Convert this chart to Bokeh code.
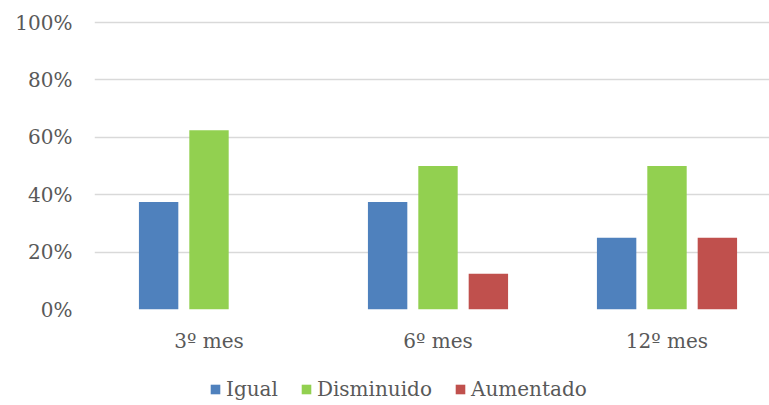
from bokeh.plotting import figure
from bokeh.layouts import column
from bokeh.models import ColumnDataSource, Range1d, FixedTicker, Legend, LegendItem, NumeralTickFormatter
from bokeh.embed import file_html
from bokeh.resources import INLINE

categories = ["3º mes", "6º mes", "12º mes"]
series_names = ["Igual", "Disminuido", "Aumentado"]
igual = [0.375, 0.375, 0.25]
disminuido = [0.625, 0.50, 0.50]
aumentado = [0.0, 0.125, 0.25]
colors = ["#4F81BD", "#92D050", "#C0504D"]
y_ticks = [0, 0.2, 0.4, 0.6, 0.8, 1.0]

FONT = "DejaVu Serif"
TEXT = "#595959"

p = figure(width=769, height=360, output_backend="svg", toolbar_location=None,
           x_range=Range1d(0, 675 / 229), y_range=Range1d(0, 1.035),
           min_border_left=94, min_border_right=0, min_border_top=12, min_border_bottom=51)
p.outline_line_color = None
p.background_fill_color = "white"
p.border_fill_color = "white"

centers = [i + 0.5 for i in range(len(categories))]
offsets = [-0.22, 0.0, 0.22]
bw = 0.172
for vals, off, col in zip([igual, disminuido, aumentado], offsets, colors):
    src = ColumnDataSource(dict(x=[c + off for c in centers], top=vals))
    p.vbar(x="x", top="top", bottom=0, width=bw, source=src, fill_color=col, line_color=None)

p.xaxis.ticker = FixedTicker(ticks=centers)
p.xaxis.major_label_overrides = {c: lab for c, lab in zip(centers, categories)}
p.yaxis.ticker = FixedTicker(ticks=y_ticks)
p.yaxis.formatter = NumeralTickFormatter(format="0%")

for ax in (p.xaxis[0], p.yaxis[0]):
    ax.axis_line_color = None
    ax.major_tick_line_color = None
    ax.minor_tick_line_color = None
    ax.major_label_text_font = FONT
    ax.major_label_text_font_size = "20px"
    ax.major_label_text_color = TEXT
p.yaxis.major_label_standoff = 16
p.xaxis.major_label_standoff = 13

p.xgrid.grid_line_color = None
p.ygrid.grid_line_color = "#D9D9D9"
p.ygrid.grid_line_width = 1.5

# legend strip
lg = figure(width=769, height=45, output_backend="svg", toolbar_location=None,
            x_range=Range1d(0, 1), y_range=Range1d(0, 1),
            x_axis_location=None, y_axis_location=None,
            min_border_left=0, min_border_right=0, min_border_top=0, min_border_bottom=0)
lg.outline_line_color = None
lg.xgrid.grid_line_color = None
lg.ygrid.grid_line_color = None
items = []
for col, name in zip(colors, series_names):
    r = lg.vbar(x=[-5], top=[0], width=0.1, fill_color=col, line_color=None)
    items.append(LegendItem(label=name, renderers=[r]))
legend = Legend(items=items, orientation="horizontal", location=(115, 4),
                label_text_font=FONT, label_text_font_size="20px", label_text_color=TEXT,
                glyph_width=12, glyph_height=12, spacing=22, label_standoff=5,
                border_line_color=None, background_fill_alpha=0, padding=0, margin=0)
lg.add_layout(legend, "center")

layout = column(p, lg, spacing=0)
open("out.html", "w").write(file_html(layout, INLINE))
